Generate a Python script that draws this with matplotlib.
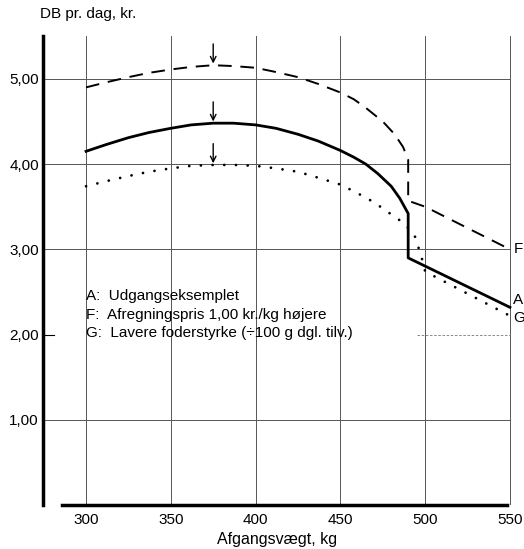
import numpy as np
import matplotlib
matplotlib.use("Agg")
from matplotlib import pyplot as plt

plt.rcParams['font.family'] = ['Liberation Sans', 'DejaVu Sans']

# Afgangsvægt (kg) og DB pr. dag (kr.)
weight_A = [300, 312, 325, 337, 350, 362, 375, 387, 400, 412, 425, 437, 450,
            458, 465, 472, 480, 485, 490, 490, 550]
db_A = [4.15, 4.23, 4.31, 4.37, 4.42, 4.46, 4.48, 4.48, 4.46, 4.42, 4.35, 4.27, 4.16,
        4.08, 4.00, 3.89, 3.74, 3.60, 3.42, 2.90, 2.32]

weight_F = [300, 312, 325, 337, 350, 362, 375, 387, 400, 412, 425, 437, 450,
            458, 465, 475, 482, 487, 490, 490, 500, 550]
db_F = [4.90, 4.96, 5.02, 5.07, 5.11, 5.14, 5.16, 5.15, 5.13, 5.08, 5.02, 4.94, 4.84,
        4.76, 4.66, 4.50, 4.35, 4.20, 4.05, 3.57, 3.50, 3.00]

weight_G = [300, 312, 325, 337, 350, 362, 375, 387, 400, 412, 425, 437, 450,
            460, 470, 480, 488, 494, 498, 500, 550]
db_G = [3.74, 3.80, 3.86, 3.91, 3.95, 3.98, 3.99, 3.99, 3.98, 3.95, 3.91, 3.84, 3.76,
        3.66, 3.55, 3.41, 3.30, 3.15, 2.90, 2.74, 2.22]

x_ticks = [300, 350, 400, 450, 500, 550]
y_ticks = [1, 2, 3, 4, 5]
y_labels = ["1,00", "2,00", "3,00", "4,00", "5,00"]

legend_lines = ["A:  Udgangseksemplet",
                "F:  Afregningspris 1,00 kr./kg højere",
                "G:  Lavere foderstyrke (\u00f7100 g dgl. tilv.)"]

fig = plt.figure(figsize=(5.24, 5.49), dpi=100)
ax = fig.add_axes([0.082, 0.080, 0.895, 0.854])
ax.set_xlim(274.6, 551.2)
ax.set_ylim(0, 5.5)

# gitter
for x in x_ticks:
    ax.plot([x, x], [0, 5.5], color='#555555', lw=0.7, zorder=1)
for y in y_ticks:
    if y == 2:
        ax.plot([274.6, 281], [y, y], color='k', lw=0.8, zorder=1)
        ax.plot([495, 550], [y, y], color='#777777', lw=0.6, ls=(0, (3, 2)), zorder=1)
    else:
        ax.plot([274.6, 550], [y, y], color='#555555', lw=0.7, zorder=1)

ax.plot(weight_F, db_F, color='k', lw=1.4, ls=(0, (7, 4.5)), zorder=3)
ax.plot(weight_A, db_A, color='k', lw=2.0, zorder=3)
ax.plot(weight_G, db_G, color='k', lw=2.0, ls=(0, (0.01, 4.2)),
        dash_capstyle='round', zorder=3)

# pile ved optimum
for ws, dbs in [(weight_F, db_F), (weight_A, db_A), (weight_G, db_G)]:
    i = int(np.argmax(dbs))
    ax.annotate("", xy=(ws[i], dbs[i] + 0.02), xytext=(ws[i], dbs[i] + 0.25),
                arrowprops=dict(arrowstyle='->', color='k', lw=1.0,
                                shrinkA=0, shrinkB=0), zorder=4)

# kurvebetegnelser
ax.text(552, db_F[-1], "F", fontsize=11, va='center', ha='left', clip_on=False)
ax.text(552, db_A[-1] + 0.08, "A", fontsize=11, va='center', ha='left', clip_on=False)
ax.text(552, db_G[-1] - 0.03, "G", fontsize=11, va='center', ha='left', clip_on=False)

for k, line in enumerate(legend_lines):
    ax.text(300, 2.45 - k * 0.215, line, fontsize=11, va='center', ha='left')

ax.set_xticks(x_ticks)
ax.set_yticks(y_ticks)
ax.set_yticklabels(y_labels)
ax.tick_params(length=0, labelsize=11, pad=3)
ax.tick_params(axis='x', pad=6)

for s in ['top', 'right']:
    ax.spines[s].set_visible(False)
ax.spines['left'].set_linewidth(2.5)
ax.spines['bottom'].set_linewidth(2.5)
ax.spines['bottom'].set_bounds(286, 548)

ax.set_xlabel("Afgangsvægt, kg", fontsize=11.5, labelpad=3)
fig.text(0.076, 0.974, "DB pr. dag, kr.", fontsize=11, ha='left', va='center')

fig.savefig("out.png", dpi=100)
